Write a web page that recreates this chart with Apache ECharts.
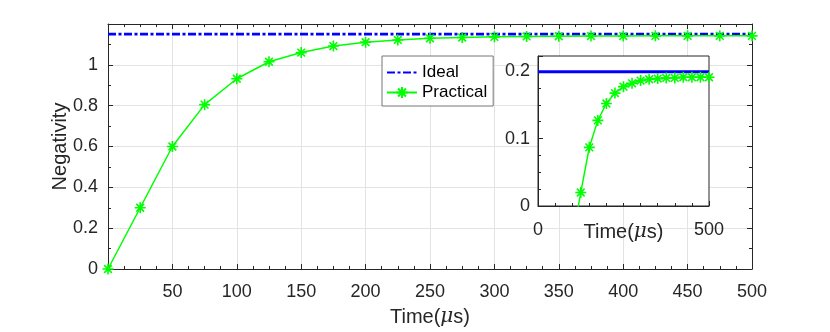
<!DOCTYPE html>
<html>
<head>
<meta charset="utf-8">
<script src="https://cdn.jsdelivr.net/npm/echarts@6/dist/echarts.min.js"></script>
<style>
  html, body { margin: 0; padding: 0; background: #fff; }
  #chart { width: 830px; height: 332px; }
</style>
</head>
<body>
<div id="chart"></div>
<script>
var chartDom = document.getElementById('chart');
var myChart = echarts.init(chartDom);

// main plot
var timeMain = [0, 25, 50, 75, 100, 125, 150, 175, 200, 225, 250, 275, 300, 325, 350, 375, 400, 425, 450, 475, 500];
var practicalMain = [0, 0.30, 0.60, 0.805, 0.932, 1.015, 1.06, 1.092, 1.111, 1.122, 1.130, 1.134, 1.137, 1.139, 1.140, 1.141, 1.141, 1.142, 1.142, 1.142, 1.142];
var idealTime = [0, 500];
var idealMain = [1.15, 1.15];

// inset
var timeInset = [100, 125, 150, 175, 200, 225, 250, 275, 300, 325, 350, 375, 400, 425, 450, 475, 500];
var practicalInset = [-0.05, 0.020, 0.087, 0.127, 0.152, 0.1675, 0.177, 0.182, 0.186, 0.188, 0.189, 0.190, 0.190, 0.191, 0.191, 0.191, 0.191];
var idealInset = [0.199, 0.199];

var xTicksMain = [50, 100, 150, 200, 250, 300, 350, 400, 450, 500];
var yTicksMain = [0, 0.2, 0.4, 0.6, 0.8, 1];
var xTicksInset = [0, 500];
var yTicksInset = [0, 0.1, 0.2];

function pairs(xs, ys) {
    var out = [];
    for (var i = 0; i < xs.length; i++) out.push([xs[i], ys[i]]);
    return out;
}
// only label the ticks that the figure labels
function onlyTicks(list) {
    return function (v) {
        for (var i = 0; i < list.length; i++) {
            if (Math.abs(v - list[i]) < 1e-6) return String(list[i]);
        }
        return '';
    };
}

var FONT = 'Liberation Sans, Arial, Helvetica, sans-serif';
var AX = '#262626';
var star = 'path://M0,-1L0,1M-1,0L1,0M-0.7,-0.7L0.7,0.7M-0.7,0.7L0.7,-0.7';
var timeName = '{a|Time(}{b|μ}{a|s)}';
function timeRich() {
    return {
        a: { fontSize: 20, fontFamily: FONT, color: AX },
        b: { fontSize: 20, fontFamily: 'DejaVu Serif, serif', fontStyle: 'italic', color: AX }
    };
}
function lineAx() {
    return { show: true, onZero: false, lineStyle: { color: AX } };
}
function tickIn() {
    return { show: true, inside: true, length: 5, lineStyle: { color: AX } };
}
function minorIn(n) {
    return { show: true, splitNumber: n, length: 3, lineStyle: { color: AX } };
}

var option = {
    animation: false,
    backgroundColor: '#fff',
    textStyle: { fontFamily: FONT },
    grid: [
        { left: 108, top: 24, right: 78, bottom: 62 },
        { left: 538, top: 56, width: 171, height: 150, show: true, z: 3,
          backgroundColor: '#fff', borderColor: AX, borderWidth: 1 }
    ],
    legend: {
        data: [{ name: 'Ideal', itemStyle: { opacity: 0 } }, 'Practical'],
        orient: 'vertical',
        left: 382, top: 56,
        z: 6,
        backgroundColor: '#fff',
        borderColor: '#777', borderWidth: 1,
        padding: [8, 6, 5, 4],
        itemWidth: 30, itemHeight: 14, itemGap: 3,
        textStyle: { fontSize: 17, color: '#000', fontFamily: FONT }
    },
    xAxis: [
        { type: 'value', gridIndex: 0, min: 0, max: 500, interval: 50, position: 'bottom',
          axisLine: lineAx(),
          axisTick: tickIn(), minorTick: minorIn(4),
          axisLabel: { fontSize: 18, color: AX, margin: 14, formatter: onlyTicks(xTicksMain) },
          splitLine: { show: true, lineStyle: { color: '#e3e3e3' } },
          name: timeName, nameLocation: 'middle', nameGap: 38, nameMoveOverlap: false,
          nameTextStyle: { rich: timeRich() } },
        { type: 'value', gridIndex: 0, min: 0, max: 500, interval: 50, position: 'top',
          axisLine: lineAx(),
          axisTick: tickIn(), minorTick: minorIn(4),
          axisLabel: { show: false }, splitLine: { show: false } },
        { type: 'value', gridIndex: 1, min: 0, max: 500, interval: 500, z: 4,
          axisLine: lineAx(),
          axisTick: tickIn(), minorTick: minorIn(10),
          axisLabel: { fontSize: 18, color: AX, margin: 15, formatter: onlyTicks(xTicksInset) },
          splitLine: { show: false },
          name: timeName, nameLocation: 'middle', nameGap: 16, nameMoveOverlap: false,
          nameTextStyle: { rich: timeRich() } }
    ],
    yAxis: [
        { type: 'value', gridIndex: 0, min: 0, max: 1.2, interval: 0.2, position: 'left',
          axisLine: lineAx(),
          axisTick: tickIn(), minorTick: minorIn(2),
          axisLabel: { fontSize: 18, color: AX, margin: 10, formatter: onlyTicks(yTicksMain) },
          splitLine: { show: true, lineStyle: { color: '#e3e3e3' } },
          name: 'Negativity', nameLocation: 'middle', nameGap: 38, nameMoveOverlap: false,
          nameTextStyle: { fontSize: 20, color: AX, fontFamily: FONT } },
        { type: 'value', gridIndex: 0, min: 0, max: 1.2, interval: 0.2, position: 'right',
          axisLine: lineAx(),
          axisTick: tickIn(), minorTick: minorIn(2),
          axisLabel: { show: false }, splitLine: { show: false } },
        { type: 'value', gridIndex: 1, min: 0, max: 0.2225, interval: 0.1, z: 4,
          axisLine: lineAx(),
          axisTick: tickIn(), minorTick: minorIn(4),
          axisLabel: { fontSize: 18, color: AX, margin: 8, formatter: onlyTicks(yTicksInset) },
          splitLine: { show: false } }
    ],
    series: [
        { name: 'Ideal', type: 'line', xAxisIndex: 0, yAxisIndex: 0,
          data: pairs(idealTime, idealMain), showSymbol: false, symbol: 'none',
          color: '#0000ff',
          lineStyle: { color: '#0000ff', width: 2.8, type: [8, 2.5, 3, 2.5] } },
        { name: 'Practical', type: 'line', xAxisIndex: 0, yAxisIndex: 0,
          data: pairs(timeMain, practicalMain),
          symbol: star, symbolSize: 11, showAllSymbol: true,
          color: '#00ff00',
          itemStyle: { color: '#00ff00', borderColor: '#00ff00', borderWidth: 1.6 },
          lineStyle: { color: '#00ff00', width: 1.5 } },
        { name: 'Ideal inset', type: 'line', xAxisIndex: 2, yAxisIndex: 2, z: 5,
          data: pairs(idealTime, idealInset), symbol: 'none',
          lineStyle: { color: '#0000ff', width: 3 } },
        { name: 'Practical inset', type: 'line', xAxisIndex: 2, yAxisIndex: 2, z: 5,
          data: pairs(timeInset, practicalInset), clip: true,
          symbol: star, symbolSize: 11, showAllSymbol: true,
          itemStyle: { color: '#00ff00', borderColor: '#00ff00', borderWidth: 1.6 },
          lineStyle: { color: '#00ff00', width: 1.5 } }
    ]
};

option && myChart.setOption(option);
</script>
</body>
</html>
